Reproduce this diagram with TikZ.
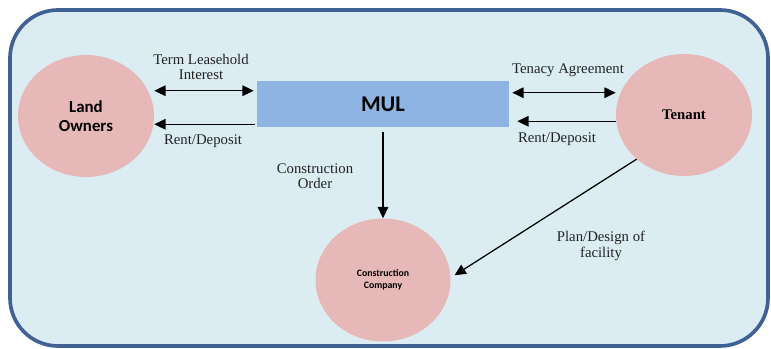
\documentclass[tikz,border=0pt]{standalone}
\usepackage{fontspec}
\setmainfont{Liberation Serif}
\newfontfamily\boxfont{Carlito}
\usepackage{tikz}
\usetikzlibrary{arrows.meta,shapes.geometric}

\definecolor{panelfill}{HTML}{DBEDF3}
\definecolor{paneldraw}{HTML}{3F6193}
\definecolor{partyfill}{HTML}{E6B8B7}
\definecolor{mulfill}{HTML}{8DB4E2}
\definecolor{labtext}{HTML}{222222}

\begin{document}
\begin{tikzpicture}[
    party/.style={ellipse,fill=partyfill,inner sep=0pt,align=center},
    flow/.style={line width=0.9pt,-{Triangle[length=8pt,width=7.5pt]}},
    twoway/.style={line width=0.9pt,{Triangle[length=8pt,width=7.5pt]}-{Triangle[length=8pt,width=7.5pt]}},
    lab/.style={text=labtext,align=center,font=\fontsize{10.5}{11}\selectfont}]
          \useasboundingbox (0,0) rectangle (19.275,8.725);
          \draw[fill=panelfill,draw=paneldraw,line width=2.6pt,rounded corners=1.2cm] (0.25,0.075) rectangle (19.2,8.475);
          % parties
          \node[party,minimum width=3.4cm,minimum height=3.05cm,font=\boxfont\bfseries\fontsize{12}{14}\selectfont] (lando) at (2.15,5.825) {Land\\Owners};
          \node[party,minimum width=3.4cm,minimum height=3.05cm,font=\bfseries\fontsize{10.5}{12}\selectfont] (tenant) at (17.1,5.85) {Tenant};
          \node[party,minimum width=3.375cm,minimum height=3.075cm,font=\boxfont\bfseries\fontsize{7}{8.5}\selectfont] (conco) at (9.575,1.725) {Construction\\Company};
          \node[fill=mulfill,minimum width=6.3cm,minimum height=1.15cm,inner sep=0pt,font=\boxfont\bfseries\fontsize{16}{18}\selectfont] (mul) at (9.575,6.125) {MUL};
          % left side
          \draw[twoway] ([xshift=-0.075cm,yshift=-0.25cm]mul.north west) -- ([yshift=-0.25cm]mul.north west -| lando.east);
          \draw[flow] ([xshift=-0.05cm,yshift=0.075cm]mul.south west) -- ([yshift=0.075cm]mul.south west -| lando.east);
          % right side
          \draw[twoway] ([xshift=0.075cm,yshift=-0.3cm]mul.north east) -- ([yshift=-0.3cm]mul.north east -| tenant.west);
          \draw[flow] ([yshift=0.15cm]mul.south east -| tenant.west) -- ([xshift=0.2cm,yshift=0.15cm]mul.south east);
          % down to the builder
          \draw[flow] ([yshift=-0.125cm]mul.south) -- (conco.north);
          \draw[flow] (tenant.223) -- ([xshift=0.1cm]conco.4);
          \node[lab] (lterm) at (5.025,7.05) {Term Leasehold\\Interest};
          \node[lab] (lrent) at (5.075,5.2) {Rent/Deposit};
          \node[lab] (ltena) at (14.2,6.975) {Tenacy Agreement};
          \node[lab] (rrent) at (13.925,5.25) {Rent/Deposit};
          \node[lab] (order) at (7.875,4.325) {Construction\\Order};
          \node[lab] (plan) at (15.025,2.575) {Plan/Design of\\facility};
\end{tikzpicture}
\end{document}
